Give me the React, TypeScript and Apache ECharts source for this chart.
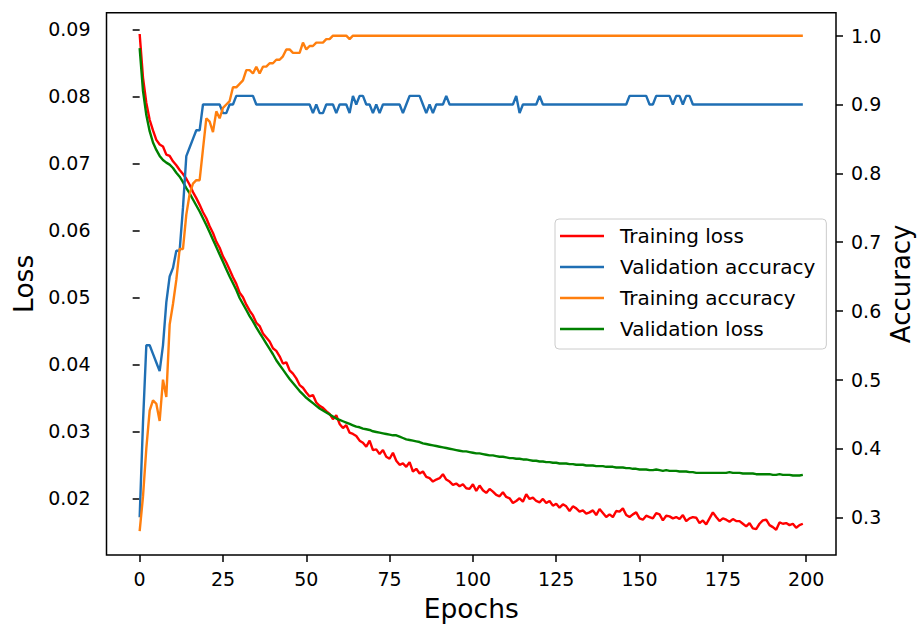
import React, { useEffect, useRef } from "react";
import * as echarts from "echarts";

// ---------- data ----------
const trainingLoss = [
  0.0893, 0.0828, 0.0790, 0.0765, 0.0749, 0.0735, 0.0728, 0.0725, 0.0713, 0.0711,
  0.0703, 0.0697, 0.0690, 0.0684, 0.0677, 0.0668, 0.0657, 0.0648, 0.0638, 0.0627,
  0.0618, 0.0606, 0.0596, 0.0583, 0.0574, 0.0561, 0.0552, 0.0541, 0.0530, 0.0520,
  0.0507, 0.0500, 0.0489, 0.0480, 0.0473, 0.0462, 0.0457, 0.0446, 0.0440, 0.0434,
  0.0424, 0.0420, 0.0412, 0.0401, 0.0403, 0.0391, 0.0386, 0.0379, 0.0369, 0.0365,
  0.0358, 0.0352, 0.0354, 0.0343, 0.0338, 0.0335, 0.0330, 0.0326, 0.0318, 0.0324,
  0.0311, 0.0305, 0.0309, 0.0298, 0.0296, 0.0293, 0.0286, 0.0283, 0.0277, 0.0286,
  0.0272, 0.0273, 0.0266, 0.0272, 0.0262, 0.0259, 0.0268, 0.0256, 0.0250, 0.0252,
  0.0247, 0.0254, 0.0240, 0.0244, 0.0237, 0.0240, 0.0232, 0.0230, 0.0225, 0.0228,
  0.0230, 0.0236, 0.0228, 0.0225, 0.0220, 0.0222, 0.0218, 0.0221, 0.0215, 0.0214,
  0.0221, 0.0211, 0.0219, 0.0212, 0.0208, 0.0214, 0.0210, 0.0205, 0.0203, 0.0209,
  0.0202, 0.0200, 0.0193, 0.0196, 0.0200, 0.0195, 0.0206, 0.0199, 0.0201, 0.0196,
  0.0194, 0.0199, 0.0193, 0.0196, 0.0189, 0.0192, 0.0186, 0.0191, 0.0188, 0.0181,
  0.0188, 0.0185, 0.0180, 0.0182, 0.0177, 0.0179, 0.0182, 0.0175, 0.0184, 0.0178,
  0.0172, 0.0176, 0.0172, 0.0181, 0.0180, 0.0185, 0.0175, 0.0172, 0.0176, 0.0179,
  0.0170, 0.0168, 0.0174, 0.0172, 0.0170, 0.0178, 0.0176, 0.0167, 0.0174, 0.0173,
  0.0170, 0.0172, 0.0169, 0.0175, 0.0166, 0.0170, 0.0172, 0.0171, 0.0163, 0.0167,
  0.0161, 0.0170, 0.0179, 0.0172, 0.0166, 0.0170, 0.0168, 0.0165, 0.0169, 0.0166,
  0.0166, 0.0162, 0.0158, 0.0163, 0.0155, 0.0154, 0.0162, 0.0167, 0.0168, 0.0160,
  0.0157, 0.0153, 0.0164, 0.0162, 0.0163, 0.0160, 0.0162, 0.0156, 0.0160, 0.0162,
];

const validationLoss = [
  0.0872, 0.0808, 0.0772, 0.0748, 0.0731, 0.0720, 0.0711, 0.0705, 0.0701, 0.0698,
  0.0693, 0.0686, 0.0680, 0.0672, 0.0663, 0.0655, 0.0646, 0.0637, 0.0628, 0.0618,
  0.0608, 0.0597, 0.0586, 0.0575, 0.0564, 0.0553, 0.0542, 0.0531, 0.0521, 0.0511,
  0.0499, 0.0490, 0.0481, 0.0472, 0.0464, 0.0455, 0.0447, 0.0439, 0.0431, 0.0423,
  0.0415, 0.0406, 0.0399, 0.0392, 0.0385, 0.0378, 0.0372, 0.0366, 0.0360, 0.0355,
  0.0350, 0.0346, 0.0342, 0.0338, 0.0334, 0.0331, 0.0328, 0.0325, 0.0322, 0.0319,
  0.0317, 0.0315, 0.0313, 0.0311, 0.0309, 0.0307, 0.0306, 0.0304, 0.0303, 0.0302,
  0.0300, 0.0299, 0.0298, 0.0297, 0.0296, 0.0295, 0.0294, 0.0294, 0.0292, 0.0290,
  0.0288, 0.0287, 0.0286, 0.0285, 0.0284, 0.0282, 0.0281, 0.0280, 0.0279, 0.0278,
  0.0277, 0.0276, 0.0275, 0.0274, 0.0273, 0.0272, 0.0271, 0.0270, 0.0270, 0.0269,
  0.0268, 0.0267, 0.0267, 0.0266, 0.0265, 0.0264, 0.0264, 0.0263, 0.0262, 0.0262,
  0.0261, 0.0260, 0.0260, 0.0259, 0.0259, 0.0258, 0.0258, 0.0257, 0.0256, 0.0256,
  0.0255, 0.0255, 0.0254, 0.0254, 0.0253, 0.0253, 0.0252, 0.0252, 0.0252, 0.0251,
  0.0251, 0.0250, 0.0250, 0.0250, 0.0249, 0.0249, 0.0249, 0.0248, 0.0248, 0.0248,
  0.0247, 0.0247, 0.0247, 0.0246, 0.0246, 0.0246, 0.0245, 0.0245, 0.0244, 0.0244,
  0.0243, 0.0243, 0.0243, 0.0242, 0.0242, 0.0243, 0.0242, 0.0241, 0.0242, 0.0241,
  0.0241, 0.0241, 0.0240, 0.0240, 0.0240, 0.0239, 0.0239, 0.0238, 0.0238, 0.0238,
  0.0238, 0.0238, 0.0238, 0.0238, 0.0238, 0.0238, 0.0238, 0.0239, 0.0238, 0.0238,
  0.0238, 0.0237, 0.0237, 0.0237, 0.0237, 0.0236, 0.0236, 0.0236, 0.0236, 0.0236,
  0.0235, 0.0235, 0.0236, 0.0235, 0.0235, 0.0235, 0.0234, 0.0234, 0.0234, 0.0235,
];

const trainingAccuracy = [
  0.28, 0.33, 0.40, 0.455, 0.47, 0.465, 0.44, 0.50, 0.475, 0.58,
  0.61, 0.645, 0.69, 0.69, 0.74, 0.77, 0.785, 0.79, 0.79, 0.835,
  0.88, 0.875, 0.86, 0.89, 0.88, 0.895, 0.90, 0.905, 0.925, 0.925,
  0.93, 0.935, 0.95, 0.95, 0.945, 0.955, 0.945, 0.955, 0.955, 0.96,
  0.96, 0.965, 0.965, 0.97, 0.98, 0.98, 0.975, 0.975, 0.975, 0.99,
  0.98, 0.985, 0.985, 0.99, 0.99, 0.99, 0.995, 0.995, 1, 1,
  1, 1, 1, 0.995, 1, 1, 1, 1, 1, 1,
  1, 1, 1, 1, 1, 1, 1, 1, 1, 1,
  1, 1, 1, 1, 1, 1, 1, 1, 1, 1,
  1, 1, 1, 1, 1, 1, 1, 1, 1, 1,
  1, 1, 1, 1, 1, 1, 1, 1, 1, 1,
  1, 1, 1, 1, 1, 1, 1, 1, 1, 1,
  1, 1, 1, 1, 1, 1, 1, 1, 1, 1,
  1, 1, 1, 1, 1, 1, 1, 1, 1, 1,
  1, 1, 1, 1, 1, 1, 1, 1, 1, 1,
  1, 1, 1, 1, 1, 1, 1, 1, 1, 1,
  1, 1, 1, 1, 1, 1, 1, 1, 1, 1,
  1, 1, 1, 1, 1, 1, 1, 1, 1, 1,
  1, 1, 1, 1, 1, 1, 1, 1, 1, 1,
  1, 1, 1, 1, 1, 1, 1, 1, 1, 1,
];

const validationAccuracy = [
  0.3, 0.4375, 0.55, 0.55, 0.5375, 0.525, 0.5125, 0.55, 0.6125, 0.65,
  0.6625, 0.6875, 0.6875, 0.75, 0.825, 0.8375, 0.85, 0.8625, 0.8625, 0.9,
  0.9, 0.9, 0.9, 0.9, 0.9, 0.8875, 0.8875, 0.9, 0.9, 0.9125,
  0.9125, 0.9125, 0.9125, 0.9125, 0.9125, 0.9, 0.9, 0.9, 0.9, 0.9,
  0.9, 0.9, 0.9, 0.9, 0.9, 0.9, 0.9, 0.9, 0.9, 0.9,
  0.9, 0.9, 0.8875, 0.9, 0.8875, 0.8875, 0.9, 0.9, 0.9, 0.8875,
  0.9, 0.9, 0.9, 0.8875, 0.9125, 0.9, 0.9125, 0.9125, 0.9, 0.9,
  0.8875, 0.9, 0.8875, 0.9, 0.9, 0.9, 0.9, 0.9, 0.9, 0.8875,
  0.9, 0.9125, 0.9125, 0.9125, 0.9125, 0.9, 0.8875, 0.9, 0.8875, 0.9,
  0.9, 0.9, 0.9125, 0.9, 0.9, 0.9, 0.9, 0.9, 0.9, 0.9,
  0.9, 0.9, 0.9, 0.9, 0.9, 0.9, 0.9, 0.9, 0.9, 0.9,
  0.9, 0.9, 0.9, 0.9125, 0.8875, 0.9, 0.9, 0.9, 0.9, 0.9,
  0.9125, 0.9, 0.9, 0.9, 0.9, 0.9, 0.9, 0.9, 0.9, 0.9,
  0.9, 0.9, 0.9, 0.9, 0.9, 0.9, 0.9, 0.9, 0.9, 0.9,
  0.9, 0.9, 0.9, 0.9, 0.9, 0.9, 0.9, 0.9125, 0.9125, 0.9125,
  0.9125, 0.9125, 0.9125, 0.9, 0.9, 0.9125, 0.9125, 0.9125, 0.9125, 0.9125,
  0.9, 0.9125, 0.9125, 0.9, 0.9125, 0.9125, 0.9, 0.9, 0.9, 0.9,
  0.9, 0.9, 0.9, 0.9, 0.9, 0.9, 0.9, 0.9, 0.9, 0.9,
  0.9, 0.9, 0.9, 0.9, 0.9, 0.9, 0.9, 0.9, 0.9, 0.9,
  0.9, 0.9, 0.9, 0.9, 0.9, 0.9, 0.9, 0.9, 0.9, 0.9,
];

const epochTicks = [0, 25, 50, 75, 100, 125, 150, 175, 200];
const lossTicks = [0.02, 0.03, 0.04, 0.05, 0.06, 0.07, 0.08, 0.09];
const accuracyTicks = [0.3, 0.4, 0.5, 0.6, 0.7, 0.8, 0.9, 1.0];
const legendOrder = ["Training loss", "Validation accuracy", "Training accuracy", "Validation loss"];

const FONT = "DejaVu Sans";

const pairs = (arr: number[]) => arr.map((v, i) => [i, v]);

export default function App() {
  const ref = useRef<HTMLDivElement>(null);

  useEffect(() => {
    if (!ref.current) return;
    const chart = echarts.init(ref.current, null, { renderer: "svg" });

    const tickStyle = { length: 7, lineStyle: { color: "#000", width: 1.5 } };
    const labelBase = { fontSize: 19, fontFamily: FONT, color: "#000" };

    const lineSeries = (name: string, data: number[], color: string, yAxisIndex: number) => ({
      name,
      type: "line",
      yAxisIndex,
      data: pairs(data),
      showSymbol: false,
      symbol: "none",
      lineStyle: { color, width: 2.4 },
      itemStyle: { color },
      emphasis: { disabled: true },
    });

    chart.setOption({
      animation: false,
      backgroundColor: "#ffffff",
      grid: {
        left: 106.5,
        right: 81,
        top: 12.7,
        bottom: 71,
        containLabel: false,
        outerBoundsMode: "none",
        show: true,
        borderColor: "#000",
        borderWidth: 1.5,
        backgroundColor: "transparent",
      },
      legend: {
        data: legendOrder,
        orient: "vertical",
        left: 555,
        top: 219,
        padding: [6, 11, 9, 5],
        itemGap: 9,
        itemWidth: 44,
        itemHeight: 2.5,
        icon: "rect",
        borderColor: "#cccccc",
        borderWidth: 1,
        borderRadius: 4,
        backgroundColor: "rgba(255,255,255,0.8)",
        textStyle: { ...labelBase, fontSize: 20, lineHeight: 22, padding: [0, 0, 0, 11] },
      },
      xAxis: {
        type: "value",
        min: -9.95,
        max: 208.95,
        name: "Epochs",
        nameLocation: "middle",
        nameGap: 40,
        nameMoveOverlap: false,
        nameTextStyle: { fontSize: 26.5, fontFamily: FONT, color: "#000" },
        axisLine: { show: false },
        axisTick: { show: true, customValues: epochTicks, ...tickStyle },
        axisLabel: {
          ...labelBase,
          margin: 14,
          customValues: epochTicks,
          formatter: (v: number) => String(v),
        },
        splitLine: { show: false },
      },
      yAxis: [
        {
          type: "value",
          position: "left",
          min: 0.011537,
          max: 0.092478,
          name: "Loss",
          nameLocation: "middle",
          nameGap: 70,
          nameMoveOverlap: false,
          nameTextStyle: { fontSize: 26.5, fontFamily: FONT, color: "#000" },
          axisLine: { show: false },
          axisTick: { show: true, customValues: lossTicks, ...tickStyle },
          axisLabel: {
            ...labelBase,
            margin: 16,
            customValues: lossTicks,
            formatter: (v: number) => v.toFixed(2),
          },
          splitLine: { show: false },
        },
        {
          type: "value",
          position: "right",
          min: 0.2452,
          max: 1.03343,
          name: "Accuracy",
          nameLocation: "middle",
          nameGap: 52,
          nameMoveOverlap: false,
          nameTextStyle: { fontSize: 26, fontFamily: FONT, color: "#000" },
          axisLine: { show: false },
          axisTick: { show: true, customValues: accuracyTicks, ...tickStyle },
          axisLabel: {
            ...labelBase,
            margin: 15,
            customValues: accuracyTicks,
            formatter: (v: number) => v.toFixed(1),
          },
          splitLine: { show: false },
        },
      ],
      series: [
        lineSeries("Training loss", trainingLoss, "#ff0000", 0),
        lineSeries("Validation loss", validationLoss, "#008000", 0),
        lineSeries("Validation accuracy", validationAccuracy, "#1f6fb4", 1),
        lineSeries("Training accuracy", trainingAccuracy, "#ff7f0e", 1),
      ],
    });

    return () => chart.dispose();
  }, []);

  return (
    <div
      ref={ref}
      style={{ position: "fixed", left: 0, top: 0, width: 917, height: 626, background: "#fff" }}
    />
  );
}
